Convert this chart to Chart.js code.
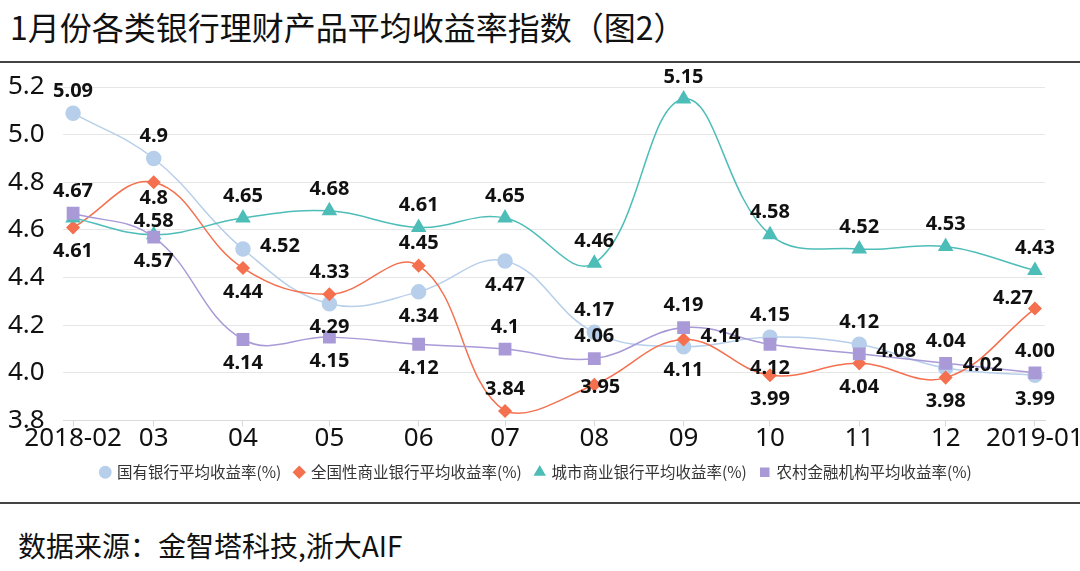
<!DOCTYPE html>
<html>
<head>
<meta charset="utf-8">
<script src="https://cdn.jsdelivr.net/npm/chart.js@4.4.1/dist/chart.umd.min.js"></script>
<style>
body{margin:0;background:#fff;width:1080px;height:571px;overflow:hidden;position:relative;font-family:"Noto Sans CJK SC",sans-serif;}
#title{position:absolute;left:10px;top:5px;font-size:32px;line-height:42px;color:#111;white-space:nowrap;}
.rule{position:absolute;left:0;width:1080px;height:2px;background:#444;}
#box{position:absolute;left:0;top:63px;width:1080px;height:438px;}
#src{position:absolute;left:18px;top:526px;font-size:28px;line-height:38px;color:#111;white-space:nowrap;}
</style>
</head>
<body>
<div id="title">1月份各类银行理财产品平均收益率指数（图2）</div>
<div class="rule" style="top:61px"></div>
<div id="box"><canvas id="yieldChart"></canvas></div>
<div class="rule" style="top:502px"></div>
<div id="src">数据来源：金智塔科技,浙大AIF</div>
<script>
// months on a date axis (Feb is shorter, so 02->03 gap is smaller)
const months = ['2018-02-01','2018-03-01','2018-04-01','2018-05-01','2018-06-01','2018-07-01',
                '2018-08-01','2018-09-01','2018-10-01','2018-11-01','2018-12-01','2019-01-01'];
const tickLabels = ['2018-02','03','04','05','06','07','08','09','10','11','12','2019-01'];

const stateBank    = [5.09, 4.9, 4.52, 4.29, 4.34, 4.47, 4.17, 4.11, 4.15, 4.12, 4.02, 3.99];
const nationalBank = [4.61, 4.8, 4.44, 4.33, 4.45, 3.84, 3.95, 4.14, 3.99, 4.04, 3.98, 4.27];
const cityBank     = [4.65, 4.58, 4.65, 4.68, 4.61, 4.65, 4.46, 5.15, 4.58, 4.52, 4.53, 4.43];
const ruralBank    = [4.67, 4.57, 4.14, 4.15, 4.12, 4.1, 4.06, 4.19, 4.12, 4.08, 4.04, 4.00];

const seriesNames = ['国有银行平均收益率(%)','全国性商业银行平均收益率(%)','城市商业银行平均收益率(%)','农村金融机构平均收益率(%)'];

// where each value label sits: T top, B bottom, b just below, u just above,
// R right, C on point, L upper left, N none
const stateSpots    = ['T','T','R','B','B','B','T','B','T','T','R','B'];
const nationalSpots = ['B','b','B','T','T','T','C','R','B','B','B','L'];
const citySpots     = ['N','u','T','T','T','T','T','T','T','T','T','T'];
const ruralSpots    = ['T','B','B','B','B','T','T','T','B','R','T','T'];

const day0 = Date.parse(months[0]);
const dayX = months.map(m => (Date.parse(m) - day0) / 86400000);

function toPoints(vals){
    return vals.map((v, i) => ({x: dayX[i], y: v}));
}

const spotShift = {T:[0,-22], B:[0,24], b:[0,16], u:[0,-13], R:[37,-3], C:[6,3], L:[-22,-10]};

const pointLabels = {
    id: 'pointLabels',
    afterDatasetsDraw(chart){
        const ctx = chart.ctx;
        ctx.save();
        ctx.font = 'bold 20px "Noto Sans", "Noto Sans CJK SC", sans-serif';
        ctx.fillStyle = '#111';
        ctx.textAlign = 'center';
        ctx.textBaseline = 'middle';
        chart.data.datasets.forEach((ds, i) => {
            const meta = chart.getDatasetMeta(i);
            meta.data.forEach((pt, j) => {
                const s = spotShift[ds.spots[j]];
                if(!s) return;
                const v = ds.data[j].y;
                const txt = Number.isInteger(v) ? v.toFixed(2) : String(v);
                ctx.fillText(txt, pt.x + s[0], pt.y + s[1]);
            });
        });
        ctx.restore();
    }
};

function makeSet(name, vals, spots, color, style, radius, order){
    return {
        label: name,
        data: toPoints(vals),
        spots: spots,
        borderColor: color,
        backgroundColor: color,
        pointBackgroundColor: color,
        pointBorderColor: color,
        pointStyle: style,
        pointRadius: radius,
        pointHoverRadius: radius,
        borderWidth: 1.5,
        tension: 0.4,
        order: order
    };
}

const yieldData = {
    datasets: [
        makeSet(seriesNames[0], stateBank, stateSpots, '#B7CFEA', 'circle', 7, 4),
        makeSet(seriesNames[1], nationalBank, nationalSpots, '#F4704E', 'rectRot', 6, 3),
        makeSet(seriesNames[2], cityBank, citySpots, '#4DBDB8', 'triangle', 7.5, 2),
        makeSet(seriesNames[3], ruralBank, ruralSpots, '#A99AD7', 'rect', 8, 1)
    ]
};

const yieldConfig = {
    type: 'line',
    data: yieldData,
    options: {
        responsive: true,
        maintainAspectRatio: false,
        animation: false,
        layout: {
            padding: {left: 8, right: 15, top: 24, bottom: 11}
        },
        scales: {
            x: {
                type: 'linear',
                min: -3.5,
                max: 337.5,
                afterBuildTicks: (scale) => {
                    scale.ticks = dayX.map(v => ({value: v}));
                },
                afterFit: (scale) => {
                    scale.paddingLeft = 0;
                    scale.paddingRight = 0;
                    scale.height = 30;
                },
                border: {color: '#D9D9D9'},
                grid: {display: true, drawOnChartArea: false, tickLength: 6, color: '#D9D9D9'},
                ticks: {
                    autoSkip: false,
                    maxRotation: 0,
                    padding: -4,
                    color: '#111',
                    font: {size: 26, family: '"Noto Sans", sans-serif'},
                    callback: (v, i) => tickLabels[i]
                }
            },
            y: {
                min: 3.8,
                max: 5.2,
                afterFit: (scale) => { scale.width = 55; },
                border: {display: false},
                grid: {color: '#E6E6E6', tickLength: 0},
                ticks: {
                    stepSize: 0.2,
                    crossAlign: 'far',
                    padding: 0,
                    color: '#111',
                    font: {size: 26, family: '"Noto Sans", sans-serif'},
                    callback: (v) => v.toFixed(1)
                }
            },
            // empty strip on the right so the plot ends before the legend box does
            side: {
                type: 'linear',
                position: 'right',
                afterFit: (scale) => { scale.width = 20; },
                border: {display: false},
                grid: {display: false},
                ticks: {display: false}
            }
        },
        plugins: {
            legend: {
                position: 'bottom',
                labels: {
                    usePointStyle: true,
                    boxWidth: 8,
                    boxHeight: 8,
                    padding: 14,
                    color: '#333',
                    font: {size: 15.5, family: '"Noto Sans CJK SC", sans-serif'},
                    sort: (a, b) => a.datasetIndex - b.datasetIndex
                }
            },
            tooltip: {enabled: false}
        }
    },
    plugins: [pointLabels]
};

const yieldChart = new Chart(document.getElementById('yieldChart'), yieldConfig);
</script>
</body>
</html>
